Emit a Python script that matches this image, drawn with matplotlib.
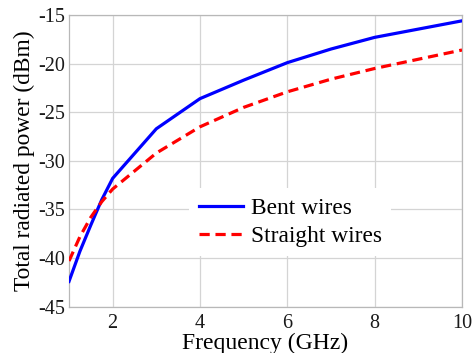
import matplotlib
matplotlib.use("Agg")
import matplotlib.pyplot as plt

plt.rcParams['font.family'] = ['Liberation Serif', 'DejaVu Serif']

freq = [1, 1.25, 1.5, 1.75, 2, 3, 4, 5, 6, 7, 8, 9, 10]
bent = [-42.4, -39.3, -36.6, -34.0, -31.8, -26.7, -23.6, -21.7, -19.9, -18.5, -17.3, -16.45, -15.6]
straight = [-40.3, -37.8, -35.8, -34.2, -32.9, -29.2, -26.5, -24.5, -22.9, -21.6, -20.5, -19.55, -18.6]

xticks = [2, 4, 6, 8, 10]
yticks = [-45, -40, -35, -30, -25, -20, -15]

fig = plt.figure(figsize=(4.74, 3.53), dpi=100)
ax = fig.add_axes([69/474, 1 - 306.7/353, (462 - 69)/474, (306.7 - 15)/353])

ax.plot(freq, bent, color='#0000ff', lw=2.3, label='Bent wires', zorder=3)
ax.plot(freq, straight, color='#ff0000', lw=2.3, ls=(0, (3.2, 1.8)), label='Straight wires', zorder=3)

ax.set_xlim(1, 10)
ax.set_ylim(-45, -15)
ax.set_xticks(xticks)
ax.set_yticks(yticks)
ax.set_xticklabels([str(t) for t in xticks])
ax.set_yticklabels([str(t) for t in yticks])
ax.grid(True, color='#d4d4d4', lw=0.9)
ax.set_axisbelow(True)
for s in ax.spines.values():
    s.set_color('#b8b8b8')
    s.set_linewidth(0.9)
ax.tick_params(axis='both', direction='in', length=0, labelsize=14.5, colors='#1a1a1a')
ax.tick_params(axis='x', pad=5)
ax.tick_params(axis='y', pad=3)

ax.set_xlabel('Frequency (GHz)', fontsize=17, labelpad=0)
ax.set_ylabel('Total radiated power (dBm)', fontsize=16.8, labelpad=2)

leg = ax.legend(loc='center left', bbox_to_anchor=(0.306, 0.29), fontsize=16.8,
                frameon=True, handlelength=1.9, handletextpad=0.35,
                labelspacing=0.28, borderpad=0.4, borderaxespad=0)
leg.get_frame().set_facecolor('white')
leg.get_frame().set_edgecolor('none')
leg.get_frame().set_alpha(1)

fig.savefig('out.png', dpi=100)
